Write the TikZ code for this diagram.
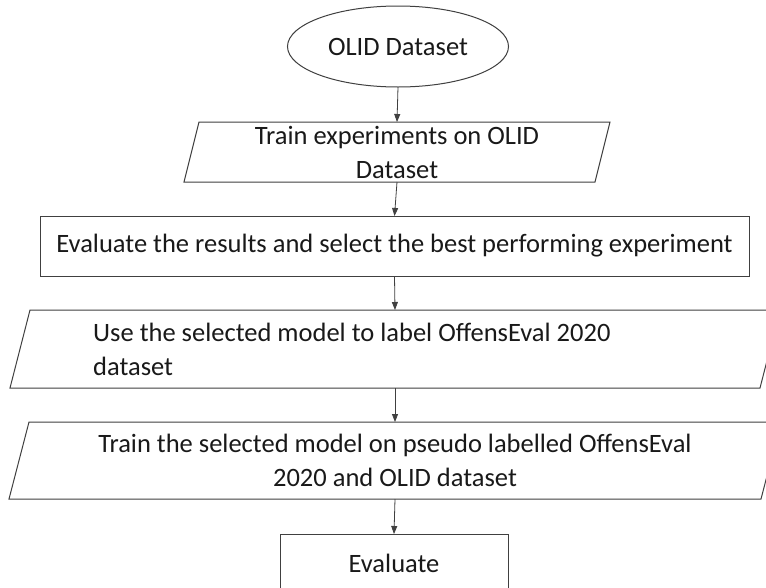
\documentclass[tikz,border=0pt]{standalone}
\usepackage{fontspec}
\setmainfont{Carlito}
\usetikzlibrary{shapes.geometric,arrows.meta}
\definecolor{linegray}{RGB}{64,64,64}
\definecolor{txt}{RGB}{25,25,25}
\begin{document}
\begin{tikzpicture}[x=1pt,y=-1pt,
  boxbase/.style={inner sep=0pt, outer sep=0pt, text=txt, font=\fontsize{26.5}{33}\selectfont},
  ellbox/.style={boxbase, ellipse, draw=linegray, line width=1pt},
  rectbox/.style={boxbase, rectangle, draw=linegray, line width=1pt},
  parabox/.style={boxbase, rectangle},
  paraline/.style={draw=linegray, line width=1pt},
  txtnode/.style={text=txt, font=\fontsize{26.5}{34}\selectfont, inner sep=0pt},
  conn/.style={draw=linegray, line width=0.8pt, -{Triangle[length=8pt,width=6pt]}}]
\useasboundingbox (0,0) rectangle (766,587);
\clip (0,0) rectangle (766,587);
\fill[white] (0,0) rectangle (766,587);

\node[ellbox, minimum width=221pt, minimum height=81pt] (e) at (398,46.5) {OLID Dataset};

\node[parabox, minimum width=411pt, minimum height=60pt] (p1) at (397,152) {};
\draw[paraline] ([xshift=7.5pt]p1.north west) -- ([xshift=7.5pt]p1.north east) -- ([xshift=-7.5pt]p1.south east) -- ([xshift=-7.5pt]p1.south west) -- cycle;
\node[txtnode, align=center] (p1t) at (p1.center) {Train experiments on OLID\\Dataset};

\node[rectbox, minimum width=709pt, minimum height=60pt] (r2) at (394.5,246) {Evaluate the results and select the best performing experiment};

\node[parabox, minimum width=750pt, minimum height=78pt] (p2) at (395,349) {};
\draw[paraline] ([xshift=10pt]p2.north west) -- ([xshift=10pt]p2.north east) -- ([xshift=-10pt]p2.south east) -- ([xshift=-10pt]p2.south west) -- cycle;
\node[txtnode, align=left, anchor=west] (p2t) at (93,349) {Use the selected model to label OffensEval 2020\\dataset};

\node[parabox, minimum width=752pt, minimum height=77pt] (p3) at (395,460.5) {};
\draw[paraline] ([xshift=10pt]p3.north west) -- ([xshift=10pt]p3.north east) -- ([xshift=-10pt]p3.south east) -- ([xshift=-10pt]p3.south west) -- cycle;
\node[txtnode, align=center] (p3t) at (p3.center) {Train the selected model on pseudo labelled OffensEval\\2020 and OLID dataset};

\node[rectbox, minimum width=228pt, minimum height=58pt] (ev) at (394,563) {Evaluate};

\draw[conn] (e.south) -- (p1.north);
\draw[conn] (p1.south) -- (r2.north);
\draw[conn] (r2.south) -- (p2.north);
\draw[conn] (p2.south) -- (p3.north);
\draw[conn] (p3.south) -- (ev.north);
\end{tikzpicture}
\end{document}
